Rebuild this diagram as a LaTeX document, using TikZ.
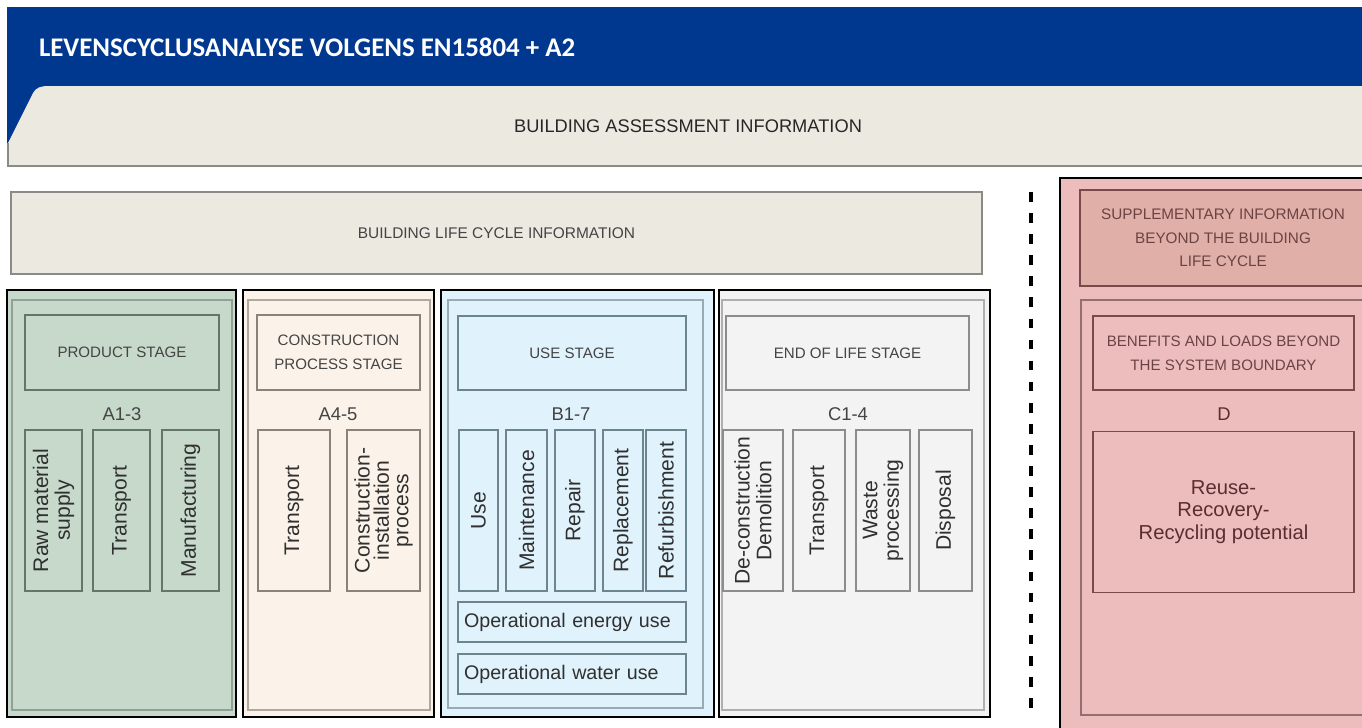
\documentclass[tikz,border=0pt]{standalone}
\usepackage{fontspec}
\setmainfont{Liberation Sans}
\newfontfamily\titlefont{Carlito}
\usepackage{xcolor}
\definecolor{band}{HTML}{00378F}
\definecolor{beige}{HTML}{ECE9E0}
\definecolor{beigeline}{HTML}{8A8A86}
\definecolor{greenfill}{HTML}{C6D9CB}
\definecolor{greenline}{HTML}{64766A}
\definecolor{sandfill}{HTML}{FBF3E9}
\definecolor{sandline}{HTML}{8C8378}
\definecolor{bluefill}{HTML}{E0F2FB}
\definecolor{blueline}{HTML}{6D8591}
\definecolor{greyfill}{HTML}{F3F3F3}
\definecolor{greyline}{HTML}{8C8C8C}
\definecolor{pinkfill}{HTML}{EDBDBD}
\definecolor{pinkhead}{HTML}{E0AFA8}
\definecolor{pinkline}{HTML}{7A4A4A}
\definecolor{pinktext}{HTML}{5A2E2E}
\definecolor{headtext}{HTML}{444444}
\definecolor{itemtext}{HTML}{303030}
\usepackage{tikz}

\begin{document}
\begin{tikzpicture}[%
    x=0.02cm,
    y=-0.02cm,
    every node/.style={inner sep=0, outer sep=0},
    sz/.style 2 args={
        minimum width=#1*0.02cm,
        minimum height=#2*0.02cm
    },
    stage/.style={
        draw=black,
        line width=1.6pt
    },
    inner/.style={
        draw,
        line width=0.6pt
    },
    head/.style={
        draw,
        line width=0.6pt,
        align=center,
        text=headtext,
        font=\fontsize{8.6}{13.8}\selectfont
    },
    code/.style={
        text=headtext,
        font=\fontsize{10.5}{12}\selectfont
    },
    item/.style={
        draw,
        line width=0.6pt,
        rotate=90,
        align=center,
        text=itemtext,
        font=\fontsize{12}{12.3}\selectfont
    },
    oper/.style={
        draw=blueline,
        line width=0.6pt,
        align=left,
        text width=216*0.02cm,
        text=itemtext,
        font=\fontsize{11.2}{13}\selectfont
    }
]

\useasboundingbox (0,0) rectangle (1362,727);
\clip (0,0) rectangle (1362,727);

% title band and assessment tab
\fill[band] (7,7) rectangle (1370,150);
\fill[beige] (8,167) -- (8,143) -- (33,93) to[out=62,in=180] (48,86)
    -- (1370,86) -- (1370,167) -- cycle;
\draw[beigeline, line width=1.1pt] (8,143) -- (8,166) -- (1370,166);

\node[anchor=west, text=white,
      font=\titlefont\fontsize{15.3}{17}\selectfont\bfseries]
    (title) at (39,47) {LEVENSCYCLUSANALYSE VOLGENS EN15804 + A2};
\node[text=black!85, font=\fontsize{10.4}{12}\selectfont]
    (assess) at (688,126) {BUILDING ASSESSMENT INFORMATION};

\node[draw=beigeline, fill=beige, line width=0.8pt, sz={971}{82},
      text=headtext, font=\fontsize{8.8}{10}\selectfont]
    (lifecycle) at (496.5,233) {\raisebox{-0.25ex}{BUILDING LIFE CYCLE INFORMATION}};

\draw[black, line width=2.2pt, dash pattern=on 5.5pt off 6.5pt]
    (1031,192) coordinate (dtop) -- (1031,710) coordinate (dbot);

% product stage
\node[stage, fill=greenfill, sz={229}{427}] (product) at (121.5,503.5) {};
\draw[inner, draw=greenline!70] (12,300) rectangle (232,710);
\node[head, draw=greenline, sz={194}{75}] (producthead) at (122,352.5) {PRODUCT STAGE};
\node[code] (a13) at (122,414) {A1-3};
\node[item, draw=greenline, sz={161}{57}] (raw) at (53.5,510.5) {Raw material\\supply};
\node[item, draw=greenline, sz={161}{57}] (transa) at (121.5,510.5) {Transport};
\node[item, draw=greenline, sz={161}{57}] (manuf) at (190.5,510.5) {Manufacturing};

% construction process stage
\node[stage, fill=sandfill, sz={191}{427}] (construction) at (338.5,503.5) {};
\draw[inner, draw=sandline!70] (248,300) rectangle (430,710);
\node[head, draw=sandline, sz={163}{75}] (constructionhead) at (338.5,352.5)
    {CONSTRUCTION\\PROCESS STAGE};
\node[code] (a45) at (338,414) {A4-5};
\node[item, draw=sandline, sz={161}{72}] (transb) at (294,510.5) {Transport};
\node[item, draw=sandline, sz={161}{73}, font=\fontsize{12}{11}\selectfont]
    (install) at (383.5,510.5) {Construction-\\installation\\process};

% use stage
\node[stage, fill=bluefill, sz={273}{427}] (use) at (577.5,503.5) {};
\draw[inner, draw=blueline!70] (448,300) rectangle (703,708);
\node[head, draw=blueline, sz={228}{74}] (usehead) at (572,353) {USE STAGE};
\node[code] (b17) at (571,414) {B1-7};
\node[item, draw=blueline, sz={161}{39}] (useitem) at (478.5,510.5) {Use};
\node[item, draw=blueline, sz={161}{41}] (maint) at (526.5,510.5) {Maintenance};
\node[item, draw=blueline, sz={161}{40}] (repair) at (575,510.5) {Repair};
\node[item, draw=blueline, sz={161}{40}] (replace) at (623,510.5) {Replacement};
\node[item, draw=blueline, sz={161}{40}] (refurb) at (666,510.5) {Refurbishment};
\node[oper, sz={228}{40}] (energy) at (572,622) {Operational energy use};
\node[oper, sz={228}{40}] (water) at (572,674) {Operational water use};

% end of life stage
\node[stage, fill=greyfill, sz={271}{427}] (endlife) at (854.5,503.5) {};
\draw[inner, draw=greyline!70] (722,300) rectangle (984,710);
\node[head, draw=greyline, sz={243}{74}] (endlifehead) at (847.5,353) {END OF LIFE STAGE};
\node[code] (c14) at (848,414) {C1-4};
\node[item, draw=greyline, sz={161}{60}] (decon) at (753,510.5) {De-construction\\Demolition};
\node[item, draw=greyline, sz={161}{52}] (transc) at (819,510.5) {Transport};
\node[item, draw=greyline, sz={161}{54}] (waste) at (883,510.5) {Waste\\processing};
\node[item, draw=greyline, sz={161}{53}] (disposal) at (945.5,510.5) {Disposal};

% beyond the life cycle
\node[stage, fill=pinkfill, sz={330}{567}] (beyond) at (1225,461.5) {};
\node[head, draw=pinkline, fill=pinkhead, text=pinktext!90, sz={286}{96},
      font=\fontsize{8.7}{13.3}\selectfont]
    (beyondhead) at (1223,238) {SUPPLEMENTARY INFORMATION\\BEYOND THE BUILDING\\LIFE CYCLE};
\draw[inner, draw=pinkline!80] (1081,300) rectangle (1390,715);
\node[head, draw=pinkline, text=pinktext!90, sz={261}{74}] (benefits) at (1223.5,353)
    {BENEFITS AND LOADS BEYOND\\THE SYSTEM BOUNDARY};
\node[code, text=pinktext] (d) at (1224,414) {D};
\node[inner, draw=pinkline, align=center, text=pinktext, sz={261}{161},
      font=\fontsize{11.5}{13}\selectfont]
    (reuse) at (1223.5,512) {Reuse-\\Recovery-\\Recycling potential};

\end{tikzpicture}
\end{document}
